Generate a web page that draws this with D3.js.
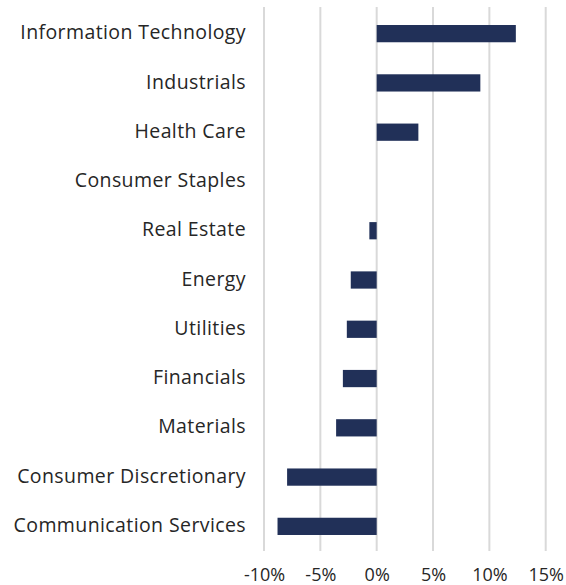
<!DOCTYPE html>
<html>
<head>
<meta charset="utf-8">
<script src="https://cdn.jsdelivr.net/npm/d3@7"></script>
<style>
  body { margin: 0; background: #fff; }
  text { font-family: "Open Sans", sans-serif; fill: #262626; }
</style>
</head>
<body>
<div id="chart"></div>
<script>
var categories = [
    'Information Technology', 'Industrials', 'Health Care', 'Consumer Staples',
    'Real Estate', 'Energy', 'Utilities', 'Financials', 'Materials',
    'Consumer Discretionary', 'Communication Services'
];
var values = [12.35, 9.2, 3.7, 0.0, -0.65, -2.3, -2.65, -3.0, -3.6, -7.95, -8.8];
var tickValues = [-10, -5, 0, 5, 10, 15];

var width = 566, height = 585;
var margin = { top: 9, right: 20, bottom: 34, left: 264 };

var svg = d3.select('#chart')
    .append('svg')
    .attr('width', width)
    .attr('height', height);

var x = d3.scaleLinear()
    .domain([-10, 15])
    .range([margin.left, 545.7]);

var y = d3.scaleBand()
    .domain(categories)
    .range([margin.top, height - margin.bottom])
    .paddingInner(0.65)
    .paddingOuter(0.325);

// gridlines
svg.append('g')
    .selectAll('line')
    .data(tickValues)
    .enter()
    .append('line')
    .attr('x1', function (d) { return x(d); })
    .attr('x2', function (d) { return x(d); })
    .attr('y1', margin.top - 2)
    .attr('y2', height - margin.bottom)
    .style('stroke', '#d9d9d9')
    .style('stroke-width', 2);

// bars
svg.append('g')
    .selectAll('rect')
    .data(values)
    .enter()
    .append('rect')
    .attr('x', function (d) { return x(Math.min(0, d)); })
    .attr('y', function (d, i) { return y(categories[i]); })
    .attr('width', function (d) { return Math.abs(x(d) - x(0)); })
    .attr('height', y.bandwidth())
    .style('fill', '#213058');

// category labels
svg.append('g')
    .selectAll('text')
    .data(categories)
    .enter()
    .append('text')
    .attr('x', 246)
    .attr('y', function (d) { return y(d) + y.bandwidth() / 2 + 5.6; })
    .attr('text-anchor', 'end')
    .style('font-size', '19.5px')
    .style('letter-spacing', '0.4px')
    .text(function (d) { return d; });

// x axis labels
var xAxis = d3.axisBottom(x)
    .tickValues(tickValues)
    .tickSize(0)
    .tickPadding(0)
    .tickFormat(function (d) { return d + '%'; });

var axisG = svg.append('g')
    .attr('transform', 'translate(0,580.7)')
    .call(xAxis);
axisG.select('.domain').remove();
axisG.selectAll('text')
    .attr('dy', null)
    .style('font-size', '18px')
    .style('font-family', '"Open Sans", sans-serif')
    .style('fill', '#262626');
</script>
</body>
</html>
